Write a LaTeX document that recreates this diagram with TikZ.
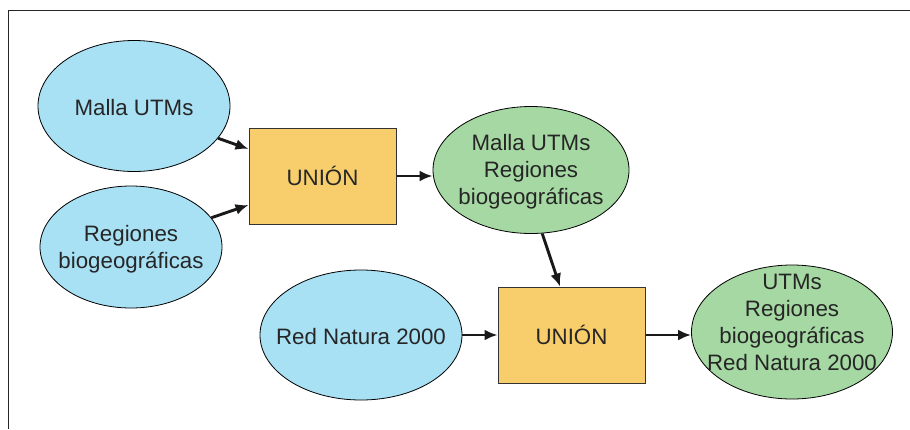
\documentclass[tikz,border=0pt]{standalone}
\usepackage{fontspec}
\setmainfont{Liberation Sans}
\usetikzlibrary{shapes.geometric,arrows.meta}
\definecolor{inblue}{HTML}{A8E0F4}
\definecolor{outgreen}{HTML}{A5D8A2}
\definecolor{procyellow}{HTML}{F7CE6B}
\definecolor{txt}{HTML}{262626}
\tikzset{
  labelfont/.style={text=txt, align=center, font=\fontsize{22.3}{27}\selectfont},
  inputdata/.style={ellipse, draw=black, line width=0.8pt, fill=inblue, inner sep=0pt},
  outputdata/.style={inputdata, fill=outgreen},
  tool/.style={rectangle, draw=black!80, line width=1pt, fill=procyellow, inner sep=0pt, labelfont},
  flow/.style={line width=2.9pt, draw=black!90, -{Latex[length=13pt,width=11pt]}},
  says/.style={label={[labelfont, yshift=-2pt]center:#1}},
  saysshifted/.style 2 args={label={[labelfont, yshift=#1]center:#2}},
}
\begin{document}
\begin{tikzpicture}[x=1pt,y=-1pt]
  \useasboundingbox (0,0) rectangle (910,429);
  \fill[white] (0,0) rectangle (910,429);
  % frame
  \draw[line width=1.2pt, black!85] (8.5,429) -- (8.5,10.5) -- (910,10.5);

  % inputs
  \node[inputdata, minimum width=192pt, minimum height=131pt, says={Malla UTMs}] (malla) at (134,106) {};
  \node[inputdata, minimum width=182pt, minimum height=122pt, says={Regiones\\biogeográficas}] (regiones) at (131,247) {};
  \node[inputdata, minimum width=202pt, minimum height=130pt, says={Red Natura 2000}] (natura) at (361,335) {};

  % tools
  \node[tool, minimum width=147pt, minimum height=96pt] (union1) at (322.5,176) {UNIÓN};
  \node[tool, minimum width=147pt, minimum height=96pt] (union2) at (571.5,335) {UNIÓN};

  % outputs
  \node[outputdata, minimum width=196pt, minimum height=127pt, says={Malla UTMs\\Regiones\\biogeográficas}] (inter) at (531,170) {};
  \node[outputdata, minimum width=201pt, minimum height=134pt, saysshifted={10pt}{UTMs\\Regiones\\biogeográficas\\Red Natura 2000}] (final) at (792,332) {};

  % connectors
  \draw[flow] (malla.-21) -- (union1.west |- 0,149);
  \draw[flow] (regiones.20) -- (union1.west |- 0,205);
  \draw[flow] (union1.east) -- (inter.west |- union1.east);
  \draw[flow] (inter.-80) -- (union2.north -| 560,0);
  \draw[flow] (natura.east) -- (union2.west);
  \draw[flow] (union2.east) -- (final.west |- union2.east);
\end{tikzpicture}
\end{document}
